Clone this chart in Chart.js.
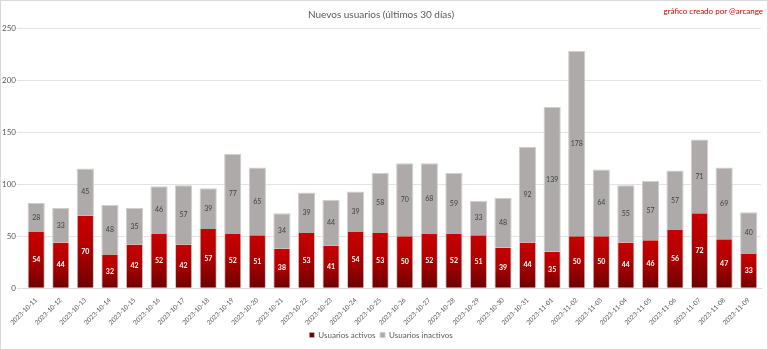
<!DOCTYPE html>
<html>
<head>
<meta charset="utf-8">
<script src="https://cdn.jsdelivr.net/npm/chart.js@4"></script>
<style>
    body { margin: 0; background: #fff; }
    #wrap { position: relative; width: 766px; height: 348px; border: 1px solid #d9d9d9; }
    #credit { position: absolute; right: 4px; top: 5px; font: 8px Lato, sans-serif; color: #d00000; }
</style>
</head>
<body>
<div id="wrap">
    <canvas id="myChart" width="766" height="348"></canvas>
    <div id="credit">gráfico creado por @arcange</div>
</div>
<script>
// Days shown on the x axis
const dates = [
    '2023-10-11', '2023-10-12', '2023-10-13', '2023-10-14', '2023-10-15', '2023-10-16',
    '2023-10-17', '2023-10-18', '2023-10-19', '2023-10-20', '2023-10-21', '2023-10-22',
    '2023-10-23', '2023-10-24', '2023-10-25', '2023-10-26', '2023-10-27', '2023-10-28',
    '2023-10-29', '2023-10-30', '2023-10-31', '2023-11-01', '2023-11-02', '2023-11-03',
    '2023-11-04', '2023-11-05', '2023-11-06', '2023-11-07', '2023-11-08', '2023-11-09'
];

// New users per day, split into active and inactive
const activos = [54, 44, 70, 32, 42, 52, 42, 57, 52, 51, 38, 53, 41, 54, 53, 50, 52, 52, 51, 39, 44, 35, 50, 50, 44, 46, 56, 72, 47, 33];
const inactivos = [28, 33, 45, 48, 35, 46, 57, 39, 77, 65, 34, 39, 44, 39, 58, 70, 68, 59, 33, 48, 92, 139, 178, 64, 55, 57, 57, 71, 69, 40];

const yTicks = [0, 50, 100, 150, 200, 250];

// Red bars fade from bright red at the top to dark red at the base
function redGradient(context) {
    const chart = context.chart;
    if (!chart.chartArea || context.dataIndex === undefined) return '#c00000';
    const y = chart.scales.y;
    const top = y.getPixelForValue(activos[context.dataIndex]);
    const bottom = y.getPixelForValue(0);
    const g = chart.ctx.createLinearGradient(0, top, 0, bottom);
    g.addColorStop(0, '#c80000');
    g.addColorStop(0.45, '#b00000');
    g.addColorStop(1, '#6e0000');
    return g;
}

// Writes each value in the middle of its bar segment
const valueLabels = {
    id: 'valueLabels',
    afterDatasetsDraw(chart) {
        const ctx = chart.ctx;
        ctx.save();
        ctx.textAlign = 'center';
        ctx.textBaseline = 'middle';
        chart.data.datasets.forEach((ds, i) => {
            const meta = chart.getDatasetMeta(i);
            meta.data.forEach((bar, j) => {
                const mid = (bar.y + bar.base) / 2;
                ctx.font = i === 0 ? 'bold 7px Lato, sans-serif' : '7px Lato, sans-serif';
                ctx.fillStyle = i === 0 ? '#ffffff' : '#404040';
                ctx.fillText(ds.data[j], bar.x, mid);
            });
        });
        ctx.restore();
    }
};

const data = {
    labels: dates,
    datasets: [{
        label: 'Usuarios activos',
        data: activos,
        backgroundColor: redGradient,
        borderColor: '#c8c8c8',
        borderWidth: { top: 0, left: 1, right: 1, bottom: 0 },
        borderSkipped: false,
        categoryPercentage: 0.7,
        barPercentage: 1.0
    },
    {
        label: 'Usuarios inactivos',
        data: inactivos,
        backgroundColor: '#aeaaaa',
        borderColor: '#d0cece',
        borderWidth: 1,
        borderSkipped: 'bottom',
        categoryPercentage: 0.7,
        barPercentage: 1.0
    }]
};

const config = {
    type: 'bar',
    data: data,
    plugins: [valueLabels],
    options: {
        responsive: false,
        animation: false,
        layout: { padding: { left: 0, right: 6, top: 3, bottom: 0 } },
        plugins: {
            title: {
                display: true,
                text: 'Nuevos usuarios (últimos 30 días)',
                color: '#595959',
                font: { family: 'Lato, sans-serif', size: 10, weight: 'normal' },
                padding: { top: 5, bottom: 7 }
            },
            legend: {
                position: 'bottom',
                labels: {
                    color: '#595959',
                    font: { family: 'Lato, sans-serif', size: 8 },
                    boxWidth: 5,
                    boxHeight: 5,
                    padding: 4.5
                }
            },
            tooltip: { enabled: false }
        },
        scales: {
            x: {
                stacked: true,
                grid: { display: false },
                border: { color: '#d9d9d9' },
                afterFit: axis => { axis.paddingLeft = 0; axis.paddingRight = 0; },
                ticks: {
                    color: '#595959',
                    font: { family: 'Lato, sans-serif', size: 6.5 },
                    maxRotation: 45,
                    minRotation: 45,
                    autoSkip: false,
                    padding: 0
                }
            },
            y: {
                stacked: true,
                min: 0,
                max: 250,
                afterBuildTicks: axis => { axis.ticks = yTicks.map(v => ({ value: v })); },
                grid: { color: '#e3e3e3', tickLength: 7, tickColor: '#e3e3e3' },
                border: { display: false },
                ticks: {
                    color: '#595959',
                    font: { family: 'Lato, sans-serif', size: 8 },
                    padding: 1
                }
            }
        }
    }
};

const myChart = new Chart(document.getElementById('myChart'), config);
</script>
</body>
</html>
